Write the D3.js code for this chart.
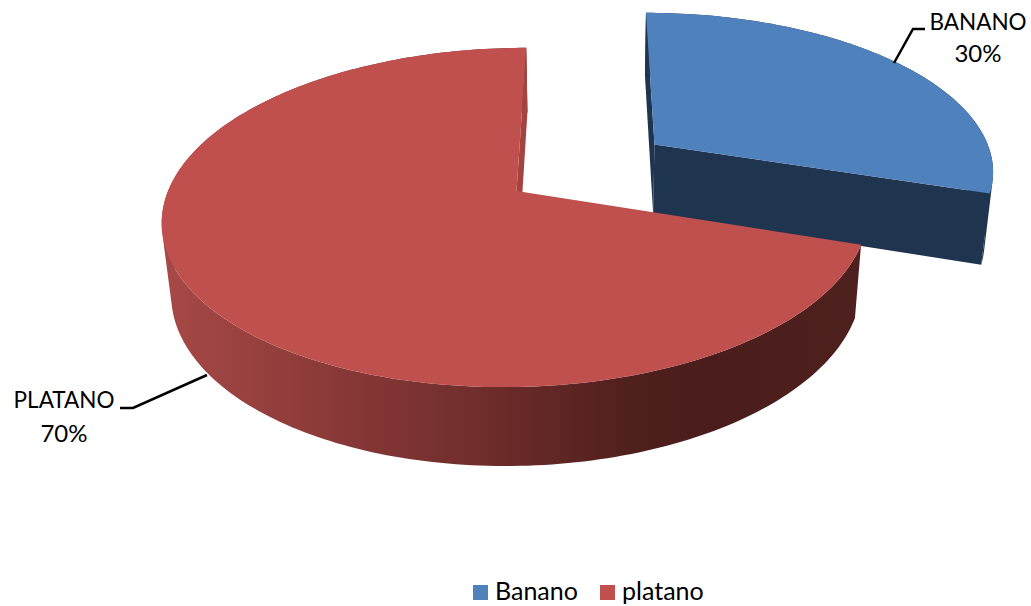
<!DOCTYPE html>
<html lang="en">
<head>
    <meta charset="UTF-8" />
    <title>Banano platano</title>
    <script src="https://d3js.org/d3.v7.min.js"></script>
    <style>
        html, body { margin: 0; background: #fff; }
        svg { display: block; }
        text { font-family: Lato, "Open Sans", sans-serif; fill: #000; }
    </style>
</head>
<body>
    <script>
        var w = 1031;
        var h = 606;

        var categories = ["Banano", "platano"];
        var labels = ["BANANO", "PLATANO"];
        var values = [30, 70];
        var topColors = ["#4f81bd", "#c0504d"];
        var faceColors = ["#1f344f", "#a54341"];

        // perspective of the disc, worked out from the reference
        var vanishX = 589, vanishY = -870;
        var planeTop = 1061, planeBottom = 1157;
        var tilt = 0.156, sink = 0.022;
        var explode = [0.5, 0];

        var svg = d3.select("body")
            .append("svg")
            .attr("width", w)
            .attr("height", h);

        var xScale = d3.scaleLinear().domain([-1, 1]).range([-421, 276]);
        var levelY = d3.scaleLinear().domain([0, 1]).range([planeTop, planeBottom]);

        // u, v on the unit disc (v > 0 towards the viewer), level 0 top, 1 bottom
        function project(u, v, level) {
            var d = 1 / (1 + sink * level - tilt * v);
            return [vanishX + xScale(u) * d, vanishY + levelY(level) * d];
        }

        var line = d3.line();

        var wallGrad = svg.append("defs").append("linearGradient")
            .attr("id", "wall")
            .attr("gradientUnits", "userSpaceOnUse")
            .attr("x1", 170).attr("x2", 860)
            .attr("y1", 0).attr("y2", 0);
        [[0, "#a64846"], [0.26, "#863836"], [0.45, "#6f2d2b"], [0.68, "#4e1f1d"], [0.78, "#4a1c1b"], [1, "#4e201e"]].forEach(function(s) {
            wallGrad.append("stop").attr("offset", s[0]).attr("stop-color", s[1]);
        });
        var wallFills = ["#1f344f", "url(#wall)"];

        var pie = d3.pie().sort(null);
        var arcs = pie(values);

        arcs.forEach(function(arc, i) {
            var mid = (arc.startAngle + arc.endAngle) / 2;
            var ou = explode[i] * Math.sin(mid);
            var ov = -explode[i] * Math.cos(mid);

            function rim(a, level) {
                return project(ou + Math.sin(a), ov - Math.cos(a), level);
            }
            var apexTop = project(ou, ov, 0);
            var apexBottom = project(ou, ov, 1);
            var angles = d3.range(arc.startAngle, arc.endAngle, 0.02).concat(arc.endAngle);

            var topRim = angles.map(function(a) { return rim(a, 0); });

            // outer wall: strips all wound the same way, in one path, so the
            // silhouette between the rims fills in and no seams show
            var strips = d3.pairs(angles).map(function(p) {
                var quad = [rim(p[0], 0), rim(p[1], 0), rim(p[1], 1), rim(p[0], 1)];
                if (d3.polygonArea(quad) < 0) quad.reverse();
                return line(quad) + "Z";
            });
            svg.append("path")
                .attr("d", strips.join(""))
                .attr("fill", wallFills[i]);

            // cut faces, only when they turn towards the viewer
            [arc.startAngle, arc.endAngle].forEach(function(a, k) {
                var face = [apexTop, rim(a, 0), rim(a, 1), apexBottom];
                var area = d3.polygonArea(face);
                if ((k === 0 && area > 0) || (k === 1 && area < 0)) {
                    svg.append("path")
                        .attr("d", line(face) + "Z")
                        .attr("fill", faceColors[i]);
                }
            });

            // top
            svg.append("path")
                .attr("d", line([apexTop].concat(topRim)) + "Z")
                .attr("fill", topColors[i]);
        });

        // data labels
        var labelAt = [[978, 30, 62], [64, 408, 442]];
        var leaders = [
            [[894, 63], [913, 29], [925, 29]],
            [[207, 375], [133, 408], [120, 408]]
        ];
        var total = d3.sum(values);

        labels.forEach(function(name, i) {
            svg.append("path")
                .attr("d", line(leaders[i]))
                .attr("fill", "none")
                .attr("stroke", "#000")
                .attr("stroke-width", 2.5);
            svg.append("text")
                .attr("x", labelAt[i][0])
                .attr("y", labelAt[i][1])
                .attr("text-anchor", "middle")
                .attr("font-size", 22.5)
                .text(name);
            svg.append("text")
                .attr("x", labelAt[i][0])
                .attr("y", labelAt[i][2])
                .attr("text-anchor", "middle")
                .attr("font-size", 24)
                .text(Math.round(values[i] / total * 100) + "%");
        });

        // legend
        var legendX = [473, 600];
        categories.forEach(function(name, i) {
            svg.append("rect")
                .attr("x", legendX[i])
                .attr("y", 585)
                .attr("width", 15)
                .attr("height", 15)
                .attr("fill", topColors[i]);
            svg.append("text")
                .attr("x", legendX[i] + 22)
                .attr("y", 600)
                .attr("font-size", 25)
                .text(name);
        });
    </script>
</body>
</html>
